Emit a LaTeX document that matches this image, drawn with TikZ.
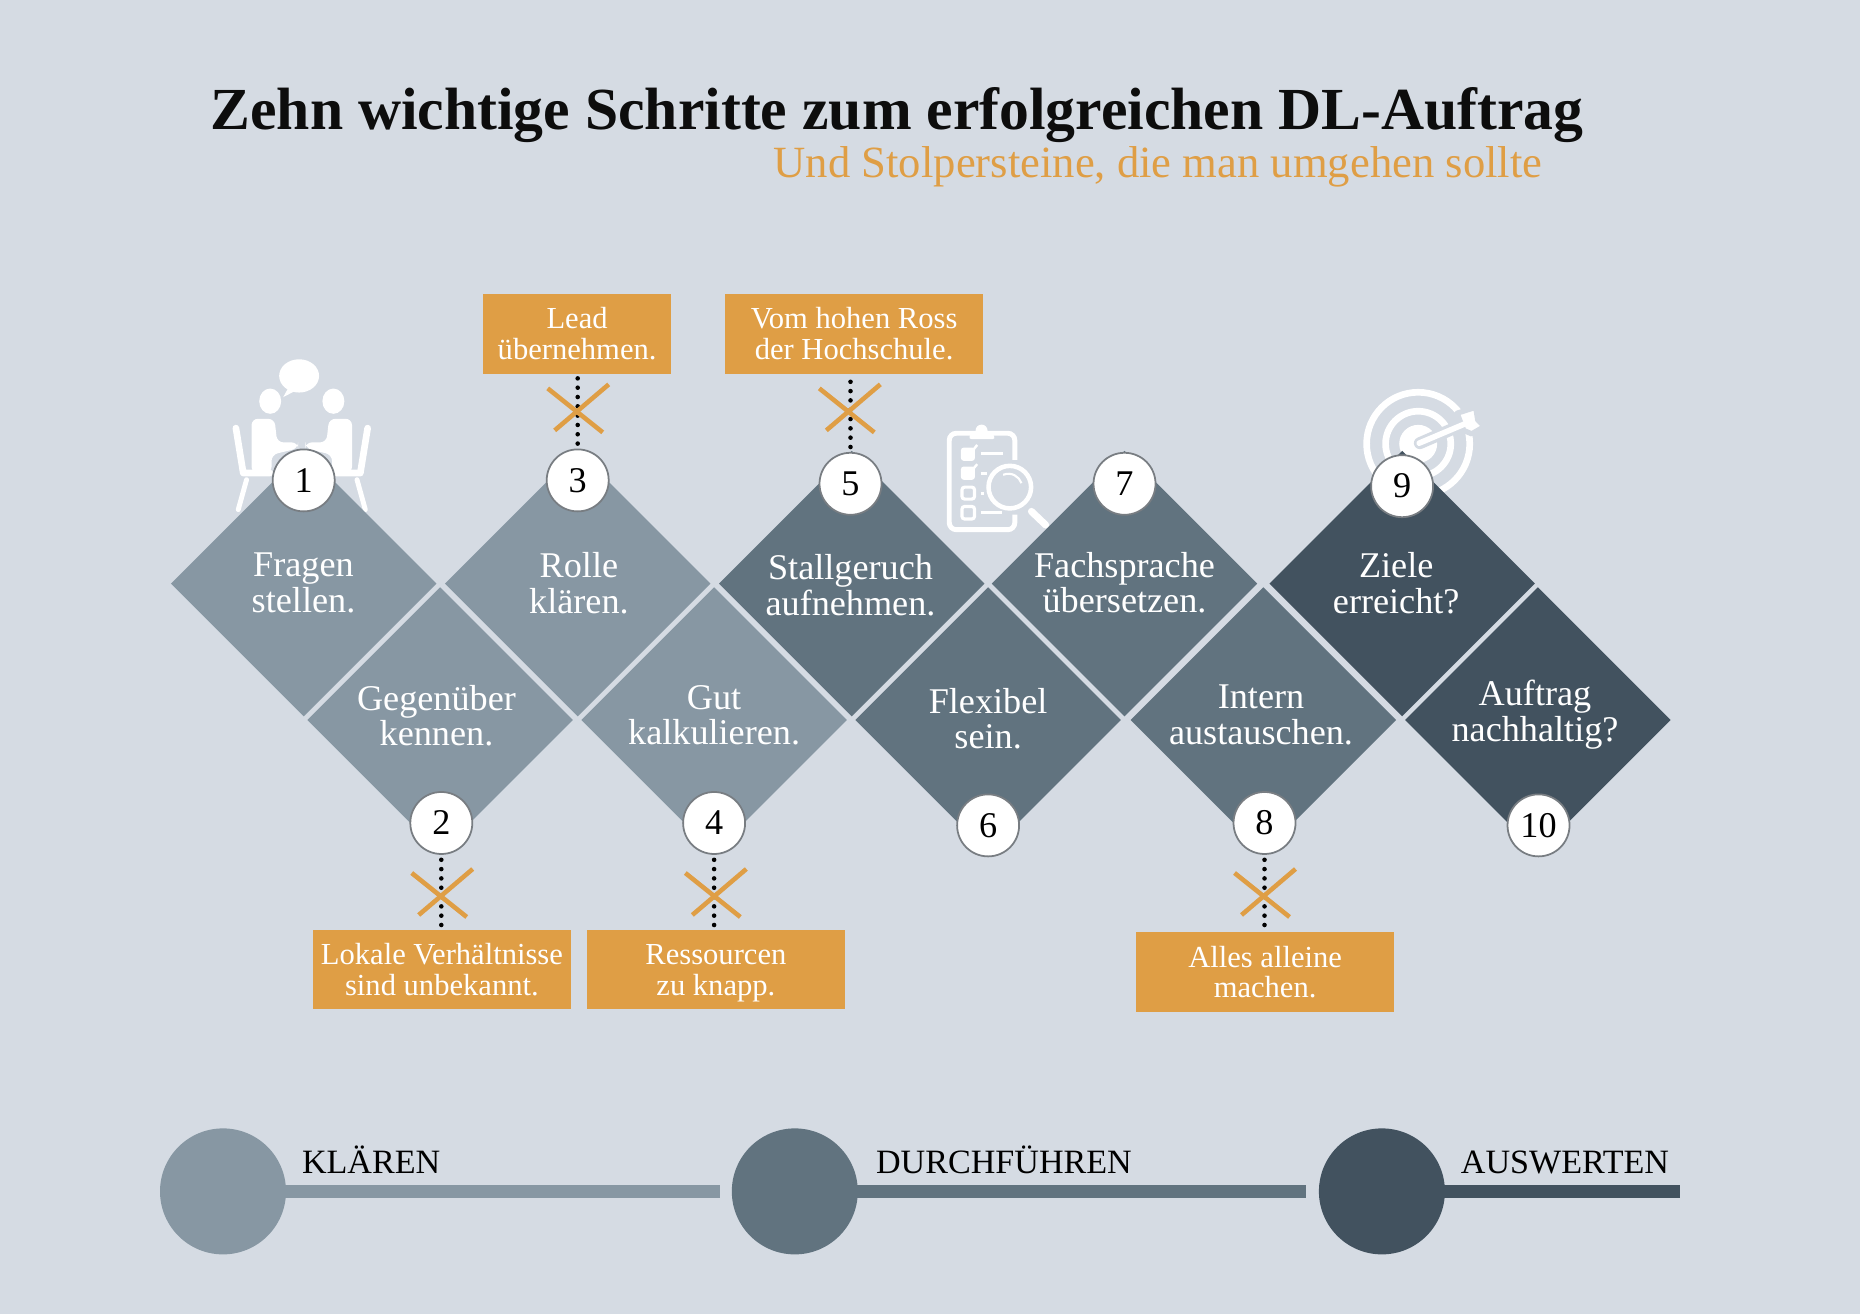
\documentclass[tikz,border=0pt]{standalone}
\usepackage{fontspec}
\setmainfont{Liberation Serif}
\usepackage{tikz}
\usetikzlibrary{positioning,shapes.geometric}
\definecolor{paper}{RGB}{213,219,227}
\definecolor{klaeren}{RGB}{135,151,163}
\definecolor{durchfuehren}{RGB}{97,115,127}
\definecolor{auswerten}{RGB}{66,82,95}
\definecolor{warnorange}{RGB}{223,158,69}
\definecolor{rimgray}{RGB}{120,125,130}
\tikzset{
  stepdiamond/.style={diamond,aspect=1,inner sep=0pt,minimum size=2.66cm},
  steptext/.style={inner sep=0pt,text=white,font=\fontsize{10.3}{10.1}\selectfont},
  stepnum/.style={circle,draw=rimgray,line width=0.5pt,fill=white,inner sep=0pt,minimum size=0.62cm,font=\fontsize{10.3}{10.3}\selectfont},
  warnbox/.style={fill=warnorange,text=white,inner sep=0pt,minimum height=0.795cm,font=\fontsize{8.7}{8.8}\selectfont},
  dotline/.style={line width=1.3pt,line cap=round,dash pattern=on 0pt off 2.65pt,shorten <=1.4pt,shorten >=0.8pt},
  phasedot/.style={circle,inner sep=0pt,minimum size=1.26cm},
  phaselabel/.style={anchor=base west,inner sep=0pt,font=\fontsize{9.7}{9.7}\selectfont},
  crossmark/.pic={
    \draw[warnorange,line width=1.3pt] (-0.30,0.22) -- (0.25,-0.22);
    \draw[warnorange,line width=1.3pt] (-0.23,-0.20) -- (0.31,0.26);
  },
  sitter/.pic={
    % coordinates in zoomed pixels, measured from the table axis
    \fill[white] (-95,184) ellipse (33 and 38);
    \fill[white,rounded corners=1.8pt] (-151,400) -- (-151,237) -- (-82,237) -- (-74,308) -- (-11,308) -- (-11,326) -- (-91,345) -- (-91,400) -- cycle;
    \draw[white,line width=1.9pt,line cap=round,line join=round] (-198,265) -- (-176,400) -- (-96,400);
    \draw[white,line width=1.4pt,line cap=round] (-166,420) -- (-191,510);
  }
}
\begin{document}
\begin{tikzpicture}[every node/.style={align=center}]
  \fill[paper] (0,0) rectangle (18.6,13.14);
  \useasboundingbox (0,0) rectangle (18.6,13.14);

  % title
  \node[anchor=base,inner sep=0pt,font=\fontsize{16.98}{18}\selectfont\bfseries,text=black!95] (title) at (8.97,11.84) {Zehn wichtige Schritte zum erfolgreichen DL-Auftrag};
  \node[anchor=base,inner sep=0pt,font=\fontsize{12.7}{13}\selectfont,text=warnorange] (subtitle) at (11.58,11.36) {Und Stolpersteine, die man umgehen sollte};

  % icon: two people talking
  \begin{scope}[shift={(2.0,9.74)},x=0.00333cm,y=-0.00333cm]
    \fill[white] (298,108) ellipse (60 and 50);
    \fill[white] (265,145) -- (250,172) -- (292,150) -- cycle;
    \pic at (306,0) {sitter};
    \pic[xscale=-1] at (306,0) {sitter};
  \end{scope}

  % icon: clipboard and lens
  \begin{scope}[shift={(9.2,9.14)},x=0.00333cm,y=-0.00333cm]
    \draw[white,line width=1.4pt,rounded corners=2pt] (285,180) -- (285,100) -- (88,100) -- (88,390) -- (285,390) -- (285,345);
    \fill[white,rounded corners=1pt] (145,118) -- (155,95) -- (215,95) -- (228,118) -- cycle;
    \fill[white] (185,92) circle (18);
    \fill[white,rounded corners=0.8pt] (123,143) rectangle (165,183);
    \fill[white,rounded corners=0.8pt] (123,200) rectangle (165,240);
    \draw[white,line width=0.9pt,rounded corners=0.8pt] (126,262) rectangle (164,298);
    \draw[white,line width=0.9pt,rounded corners=0.8pt] (126,320) rectangle (164,358);
    \draw[white,line width=0.8pt] (182,160) -- (250,160);
    \draw[white,line width=0.8pt] (182,220) -- (200,220);
    \draw[white,line width=0.8pt] (182,280) -- (192,280);
    \draw[white,line width=0.8pt] (182,338) -- (245,338);
    \draw[white,line width=0.7pt] (160,150) -- (172,135);
    \draw[white,line width=0.7pt] (160,207) -- (172,193);
    \draw[white,line width=1.3pt] (270,262) circle (64);
    \draw[white,line width=0.6pt] (250,225) .. controls (275,215) and (298,230) .. (305,250);
    \draw[white,line width=2pt,line cap=round] (335,335) -- (378,376);
  \end{scope}

  % icon: target and arrow
  \begin{scope}[shift={(13.4,9.44)},x=0.00333cm,y=-0.00333cm]
    \draw[white,line width=1.9pt] (235,222) circle (155);
    \draw[white,line width=1.9pt] (235,222) circle (98);
    \fill[white] (235,222) circle (57);
    \draw[paper,line width=3.4pt,line cap=round] (240,220) -- (390,155);
    \fill[white,draw=paper,line width=1.5pt,line join=round] (352,130) -- (408,112) -- (414,150) -- (434,170) -- (396,192) -- (372,182) -- cycle;
    \draw[white,line width=1.6pt,line cap=round] (238,220) -- (385,158);
  \end{scope}

  % steps
  \node[stepdiamond,fill=klaeren] (d1) at (3.037,7.304) {};
  \node[stepdiamond,fill=klaeren] (d2) at (4.401,5.940) {};
  \node[stepdiamond,fill=klaeren] (d3) at (5.777,7.304) {};
  \node[stepdiamond,fill=klaeren] (d4) at (7.141,5.940) {};
  \node[stepdiamond,fill=durchfuehren] (d5) at (8.517,7.304) {};
  \node[stepdiamond,fill=durchfuehren] (d6) at (9.881,5.940) {};
  \node[stepdiamond,fill=durchfuehren] (d7) at (11.245,7.304) {};
  \node[stepdiamond,fill=durchfuehren] (d8) at (12.633,5.940) {};
  \node[stepdiamond,fill=auswerten] (d9) at (14.021,7.304) {};
  \node[stepdiamond,fill=auswerten] (d10) at (15.379,5.940) {};

  \node[steptext] (t1) at (3.035,7.312) {Fragen\\stellen.};
  \node[steptext] (t2) at (4.365,5.981) {Gegenüber\\kennen.};
  \node[steptext] (t3) at (5.789,7.306) {Rolle\\klären.};
  \node[steptext] (t4) at (7.141,5.989) {Gut\\kalkulieren.};
  \node[steptext] (t5) at (8.505,7.286) {Stallgeruch\\aufnehmen.};
  \node[steptext] (t6) at (9.881,5.953) {Flexibel\\sein.};
  \node[steptext] (t7) at (11.245,7.312) {Fachsprache\\übersetzen.};
  \node[steptext] (t8) at (12.610,5.989) {Intern\\austauschen.};
  \node[steptext] (t9) at (13.962,7.306) {Ziele\\erreicht?};
  \node[steptext] (t10) at (15.350,5.994) {Auftrag\\nachhaltig?};

  % numbers
  \node[stepnum] (n1) at (3.037,8.336) {1};
  \node[stepnum] (n2) at (4.413,4.910) {2};
  \node[stepnum] (n3) at (5.777,8.336) {3};
  \node[stepnum] (n4) at (7.141,4.910) {4};
  \node[stepnum] (n5) at (8.505,8.302) {5};
  \node[stepnum] (n6) at (9.881,4.886) {6};
  \node[stepnum] (n7) at (11.245,8.302) {7};
  \node[stepnum] (n8) at (12.645,4.910) {8};
  \node[stepnum] (n9) at (14.021,8.278) {9};
  \node[stepnum] (n10) at (15.385,4.886) {10};

  % stumbling blocks
  \node[warnbox,minimum width=1.886cm] (lead) at (5.771,9.801) {Lead\\übernehmen.};
  \node[warnbox,minimum width=2.586cm] (ross) at (8.541,9.801) {Vom hohen Ross\\der Hochschule.};
  \node[warnbox,minimum width=2.574cm] (lokal) at (4.419,3.443) {Lokale Verhältnisse\\sind unbekannt.};
  \node[warnbox,minimum width=2.574cm] (mittel) at (7.159,3.443) {\vphantom{k}Ressourcen\\zu kna\smash{pp}.};
  \node[warnbox,minimum width=2.574cm] (allein) at (12.651,3.419) {Alles alleine\\machen.};

  \draw[dotline] (n3.north) -- (n3.north |- lead.south);
  \draw[dotline] (n5.north) -- (n5.north |- ross.south);
  \draw[dotline] (n2.south) -- (n2.south |- lokal.north);
  \draw[dotline] (n4.south) -- (n4.south |- mittel.north);
  \draw[dotline] (n8.south) -- (n8.south |- allein.north);
  \pic at (5.777,9.036) {crossmark};
  \pic at (8.493,9.036) {crossmark};
  \pic at (4.417,4.19) {crossmark};
  \pic at (7.153,4.19) {crossmark};
  \pic at (12.645,4.19) {crossmark};

  % phases
  \coordinate (k1) at (7.200,1.226);
  \coordinate (k2) at (13.060,1.226);
  \coordinate (k3) at (16.797,1.226);
  \node[phasedot,fill=klaeren] (p1) at (2.230,1.226) {};
  \node[phasedot,fill=durchfuehren] (p2) at (7.948,1.226) {};
  \node[phasedot,fill=auswerten] (p3) at (13.819,1.226) {};
  \draw[klaeren,line width=0.13cm] (p1.center) -- (k1);
  \draw[durchfuehren,line width=0.13cm] (p2.center) -- (k2);
  \draw[auswerten,line width=0.13cm] (p3.center) -- (k3);
  \node[phaselabel] (l1) at (3.013,1.408) {KLÄREN};
  \node[phaselabel] (l2) at (8.754,1.408) {DURCHFÜHREN};
  \node[phaselabel] (l3) at (14.602,1.408) {AUSWERTEN};
\end{tikzpicture}
\end{document}
